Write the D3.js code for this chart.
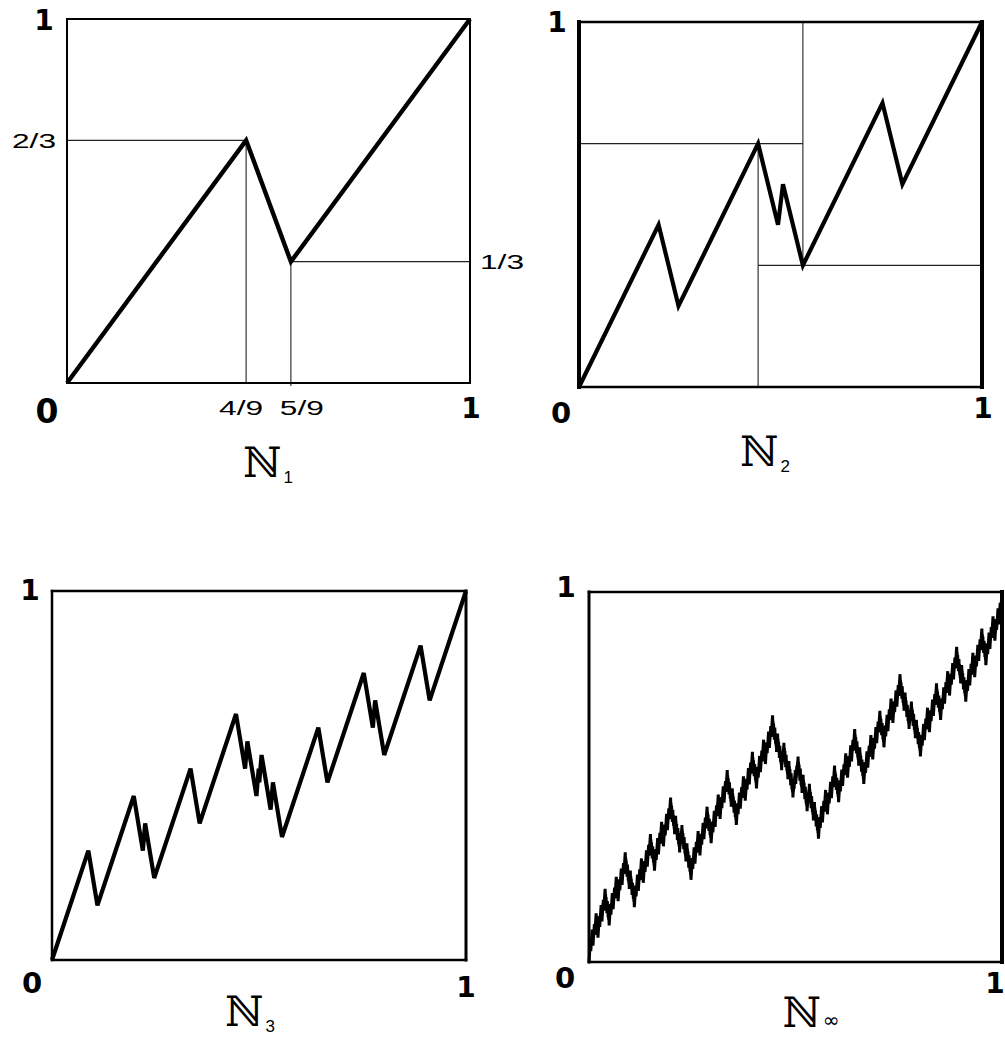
<!DOCTYPE html>
<html>
<head>
<meta charset="utf-8">
<script src="https://cdn.jsdelivr.net/npm/d3@7"></script>
<style>
  html, body { margin: 0; padding: 0; background: #fff; }
  svg { display: block; }
</style>
</head>
<body>
<svg id="chart" width="1005" height="1040"></svg>
<script>
// Generator of the self-affine curve: the unit square is split at x = 4/9 and 5/9,
// with the curve passing through heights 2/3 and 1/3.
const generatorX = [0, 4 / 9, 5 / 9, 1];
const generatorY = [0, 2 / 3, 1 / 3, 1];

// Fraction labels for the break points.
const breakLabelsX = ["4/9", "5/9"];
const breakLabelsY = ["2/3", "1/3"];

// Corner labels of every square.
const cornerLabels = ["0", "1"];

// Refinement depth of each panel and its subscript.
const panelLevels = [1, 2, 3, 7];
const panelSubscripts = ["1", "2", "3", "\u221E"];

// Each refinement replaces every straight segment by a copy of the generator
// stretched to that segment's bounding box.
function refine(points) {
  const out = [points[0]];
  for (let i = 0; i < points.length - 1; i++) {
    const [x0, y0] = points[i], [x1, y1] = points[i + 1];
    for (let k = 1; k < generatorX.length; k++) {
      out.push([x0 + generatorX[k] * (x1 - x0), y0 + generatorY[k] * (y1 - y0)]);
    }
  }
  return out;
}
function curveAtLevel(level) {
  let pts = [[0, 0], [1, 1]];
  for (let i = 0; i < level; i++) pts = refine(pts);
  return pts;
}

const svg = d3.select("#chart");

const panels = [
  { left: 67, right: 470, bottom: 383, top: 19, border: [2, 2, 2, 2], stroke: 4.4,
    one: [44, 30], zero: [47, 423], zeroSize: 33, oneX: [471, 418], title: [268, 477], guides: "level1" },
  { left: 579, right: 982, bottom: 387, top: 22, border: [2.5, 4, 2.5, 4], stroke: 4.2,
    one: [557, 32], zero: [561, 423], zeroSize: 29, oneX: [983, 418], title: [765, 466], guides: "level2" },
  { left: 52, right: 466, bottom: 960, top: 591, border: [2.5, 3, 2.5, 2.5], stroke: 4.2,
    one: [30, 600], zero: [32, 993], zeroSize: 29, oneX: [466, 997], title: [250, 1026], guides: null },
  { left: 589, right: 1002, bottom: 962, top: 592, border: [2.5, 4, 2.5, 3], stroke: 3,
    one: [566, 597], zero: [565, 988], zeroSize: 29, oneX: [995, 993], title: [811, 1027], guides: null }
];

const [gx1, gx2] = [generatorX[1], generatorX[2]];
const [gy1, gy2] = [generatorY[1], generatorY[2]];
const guideSets = {
  level1: [
    [[0, gy1], [gx1, gy1]],
    [[gx1, gy1], [gx1, 0]],
    [[gx2, gy2], [gx2, -0.008]],
    [[gx2, gy2], [1, gy2]]
  ],
  level2: [
    [[0, gy1], [gx2, gy1]],
    [[gx2, 1], [gx2, gy2]],
    [[gx1, gy1], [gx1, 0]],
    [[gx1, gy2], [1, gy2]]
  ]
};

panels.forEach((p, i) => {
  const x = d3.scaleLinear().domain([0, 1]).range([p.left, p.right]);
  const y = d3.scaleLinear().domain([0, 1]).range([p.bottom, p.top]);
  const g = svg.append("g");

  // thin guide lines
  if (p.guides) {
    g.selectAll("line.guide").data(guideSets[p.guides]).join("line")
      .attr("class", "guide")
      .attr("x1", d => x(d[0][0])).attr("y1", d => y(d[0][1]))
      .attr("x2", d => x(d[1][0])).attr("y2", d => y(d[1][1]))
      .attr("stroke", "#222").attr("stroke-width", 1.1);
  }

  // frame: top, right, bottom, left
  const [bt, br, bb, bl] = p.border;
  const frame = [
    { x1: 0, y1: 1, x2: 1, y2: 1, w: bt },
    { x1: 1, y1: 0, x2: 1, y2: 1, w: br },
    { x1: 0, y1: 0, x2: 1, y2: 0, w: bb },
    { x1: 0, y1: 0, x2: 0, y2: 1, w: bl }
  ];
  g.selectAll("line.frame").data(frame).join("line")
    .attr("class", "frame")
    .attr("x1", d => x(d.x1)).attr("y1", d => y(d.y1))
    .attr("x2", d => x(d.x2)).attr("y2", d => y(d.y2))
    .attr("stroke", "#000").attr("stroke-width", d => d.w)
    .attr("stroke-linecap", "square");

  // the curve
  const line = d3.line().x(d => x(d[0])).y(d => y(d[1]));
  g.append("path")
    .datum(curveAtLevel(panelLevels[i]))
    .attr("d", line)
    .attr("fill", "none")
    .attr("stroke", "#000")
    .attr("stroke-width", p.stroke)
    .attr("stroke-linejoin", "miter")
    .attr("stroke-miterlimit", 4);

  // corner labels
  const bigText = (sx, sy, txt, size, anchor) => g.append("text")
    .attr("x", sx).attr("y", sy)
    .attr("font-family", "DejaVu Sans, Liberation Sans, sans-serif")
    .attr("font-weight", "bold")
    .attr("font-size", size + "px")
    .attr("text-anchor", anchor || "middle")
    .text(txt);
  bigText(p.one[0], p.one[1], cornerLabels[1], 28);
  bigText(p.zero[0], p.zero[1], cornerLabels[0], p.zeroSize);
  bigText(p.oneX[0], p.oneX[1], cornerLabels[1], 28);

  // title ℕ with subscript
  const t = g.append("text")
    .attr("x", p.title[0]).attr("y", p.title[1])
    .attr("font-family", "DejaVu Serif, Liberation Serif, serif")
    .attr("font-size", "42px")
    .attr("text-anchor", "middle");
  t.append("tspan").text("\u2115");
  t.append("tspan")
    .attr("font-family", i === 3 ? "DejaVu Sans, sans-serif" : "Liberation Sans, sans-serif")
    .attr("font-size", i === 3 ? "20px" : "17px")
    .attr("dx", 2).attr("dy", i === 3 ? 0 : 6)
    .text(panelSubscripts[i]);

  // fraction labels on the first panel
  if (i === 0) {
    const small = (sel) => sel.attr("font-family", "Liberation Sans, Arial, sans-serif")
      .attr("font-size", "20px").attr("textLength", 44).attr("lengthAdjust", "spacingAndGlyphs");
    small(g.append("text").attr("x", x(generatorX[1]) - 27).attr("y", 415).text(breakLabelsX[0]));
    small(g.append("text").attr("x", x(generatorX[2]) - 11).attr("y", 415).text(breakLabelsX[1]));
    small(g.append("text").attr("x", 12).attr("y", y(generatorY[1]) + 8).text(breakLabelsY[0]));
    small(g.append("text").attr("x", 480).attr("y", y(generatorY[2]) + 7).text(breakLabelsY[1]));
  }
});
</script>
</body>
</html>
